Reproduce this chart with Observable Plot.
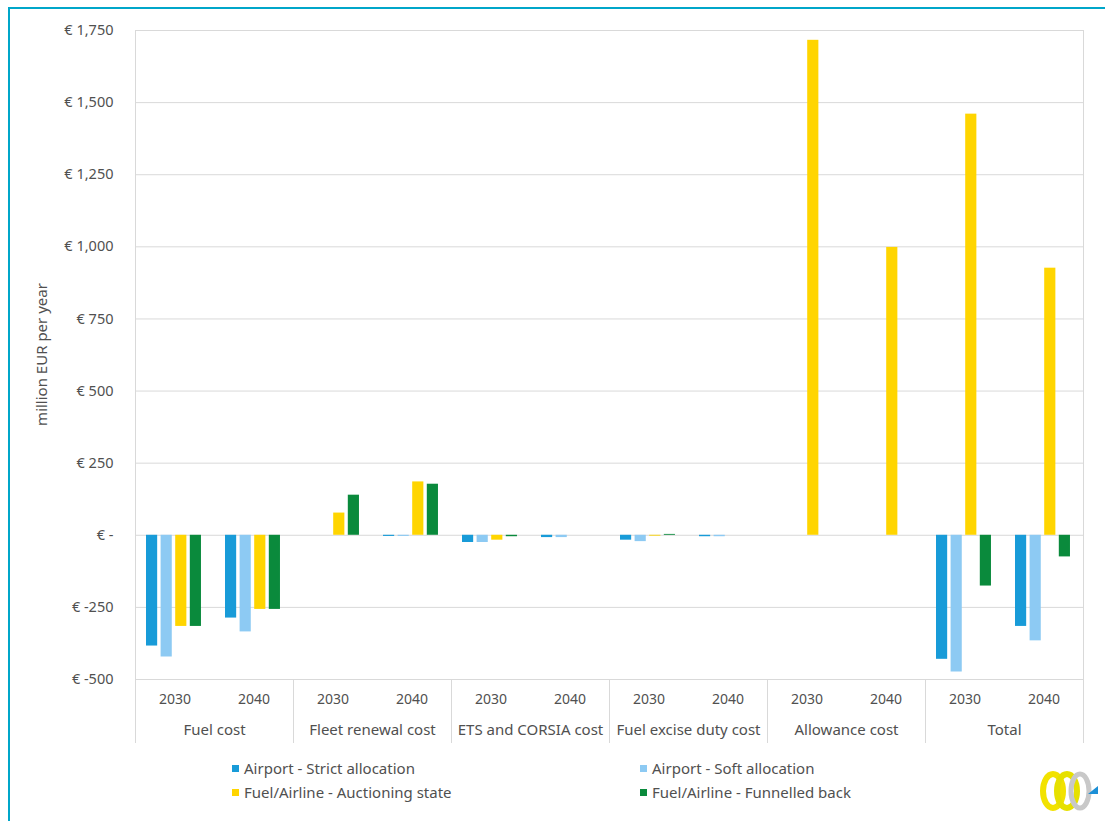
<!DOCTYPE html>
<html><head><meta charset="utf-8">
<script src="https://cdn.jsdelivr.net/npm/d3@7"></script>
<script src="https://cdn.jsdelivr.net/npm/@observablehq/plot@0.6"></script>
<style>
body{margin:0;background:#fff;font-family:"Noto Sans",sans-serif;}
#frame{position:absolute;left:8px;top:7px;width:1200px;height:900px;border-top:2px solid #00A6C9;border-left:2px solid #00A6C9;}
#chart{position:absolute;left:0;top:0;}
#legend{position:absolute;left:0;top:0;width:1105px;height:821px;font-size:15px;color:#505050;pointer-events:none}
.item{position:absolute;white-space:nowrap;line-height:20px}
.sw{display:inline-block;width:7px;height:7px;margin-right:5px;vertical-align:2px}
#logo{position:absolute;left:1036px;top:768px}
</style></head>
<body>
<div id="frame"></div>
<div id="chart"></div>
<div id="legend"></div>
<svg id="logo" width="66" height="46" viewBox="0 0 66 46">
  <ellipse cx="17" cy="23" rx="10" ry="17" fill="none" stroke="#F2E200" stroke-width="6"/>
  <ellipse cx="31" cy="23" rx="10" ry="17" fill="none" stroke="#E6E000" stroke-width="6"/>
  <ellipse cx="44" cy="23" rx="9" ry="17" fill="none" stroke="#C8C8C8" stroke-width="5"/>
  <path d="M52 26 L62 18 L62 26 Z" fill="#1B8FD6"/>
</svg>
<script>
const categories = ["Fuel cost","Fleet renewal cost","ETS and CORSIA cost","Fuel excise duty cost","Allowance cost","Total"];
const years = ["2030","2040"];
const seriesNames = ["Airport - Strict allocation","Airport - Soft allocation","Fuel/Airline - Auctioning state","Fuel/Airline - Funnelled back"];
const seriesColors = ["#189BD8","#8DCAF3","#FFD500","#0A8A3C"];
// values ordered: category by category, 2030 then 2040
const strictValues  = [-384, -287,   0,  -4, -25, -8, -17, -5,    0,   0, -430, -316];
const softValues    = [-422, -335,   0,  -4, -25, -8, -22, -5,    0,   0, -474, -366];
const auctionValues = [-316, -257,  77, 185, -17,  0,  -3,  0, 1716, 998, 1460,  926];
const funnelValues  = [-316, -257, 139, 177,  -5,  0,   3,  0,    0,   0, -176,  -75];
const yTicks = [-500,-250,0,250,500,750,1000,1250,1500,1750];
const yLabel = "million EUR per year";

const seriesValues = [strictValues, softValues, auctionValues, funnelValues];
const rows = [];
categories.forEach((c, ci) => years.forEach((yr, yi) => seriesNames.forEach((s, si) =>
  rows.push({category: c, year: yr, series: s, value: seriesValues[si][ci * 2 + yi]}))));

const W = 1105, H = 750, mTop = 30, mLeft = 133, mRight = 20, mBottom = 8, yBottomInset = 63;
const band = (W - mLeft - mRight) / categories.length / years.length;
const barW = 11.5, barStep = 14.6, barOff = 11;
const fmt = d => d === 0 ? "€ -" : "€ " + d3.format(",")(d).replace("−", "-");
const grid = "#d9d9d9";

const chart = Plot.plot({
  width: W, height: H, marginTop: mTop, marginLeft: mLeft, marginRight: mRight, marginBottom: mBottom,
  style: {fontFamily: "Noto Sans", fontSize: "14px", color: "#505050", background: "transparent"},
  fx: {domain: categories, padding: 0, label: null},
  x: {domain: years, padding: 0, label: null},
  y: {domain: [-500, 1750], insetBottom: yBottomInset, label: null},
  color: {domain: seriesNames, range: seriesColors},
  marks: [
    Plot.gridY(yTicks, {stroke: grid, strokeOpacity: 1}),
    ...seriesNames.map((s, i) => Plot.barY(rows.filter(r => r.series === s), {
      fx: "category", x: "year", y: "value", fill: "series",
      insetLeft: barOff + barStep * i, insetRight: band - barOff - barStep * i - barW
    })),
    Plot.axisY(yTicks, {tickSize: 0, tickPadding: 22, tickFormat: fmt, label: null, fontSize: 14.5}),
    Plot.axisX({tickSize: 0, dy: -57, label: null, fontSize: 14}),
    Plot.axisFx({anchor: "bottom", tickSize: 0, dy: -27, label: null, fontSize: 15}),
    Plot.frame({anchor: "left", insetTop: H - mBottom - yBottomInset - mTop, stroke: grid, strokeOpacity: 1}),
    Plot.frame({facet: "super", anchor: "left", stroke: grid, strokeOpacity: 1}),
    Plot.frame({facet: "super", anchor: "right", stroke: grid, strokeOpacity: 1}),
    Plot.text([yLabel], {fx: () => categories[0], text: d => d, frameAnchor: "left", textAnchor: "middle", rotate: -90, dx: -93, dy: -32, fontSize: 15, fill: "#505050"})
  ]
});
document.getElementById("chart").appendChild(chart);

const legend = document.getElementById("legend");
const pos = [[232, 758], [640, 758], [232, 782], [640, 782]];
seriesNames.forEach((s, i) => {
  const el = document.createElement("div");
  el.className = "item";
  el.style.left = pos[i][0] + "px";
  el.style.top = pos[i][1] + "px";
  el.innerHTML = `<span class="sw" style="background:${seriesColors[i]}"></span>${s}`;
  legend.appendChild(el);
});
</script>
</body></html>
